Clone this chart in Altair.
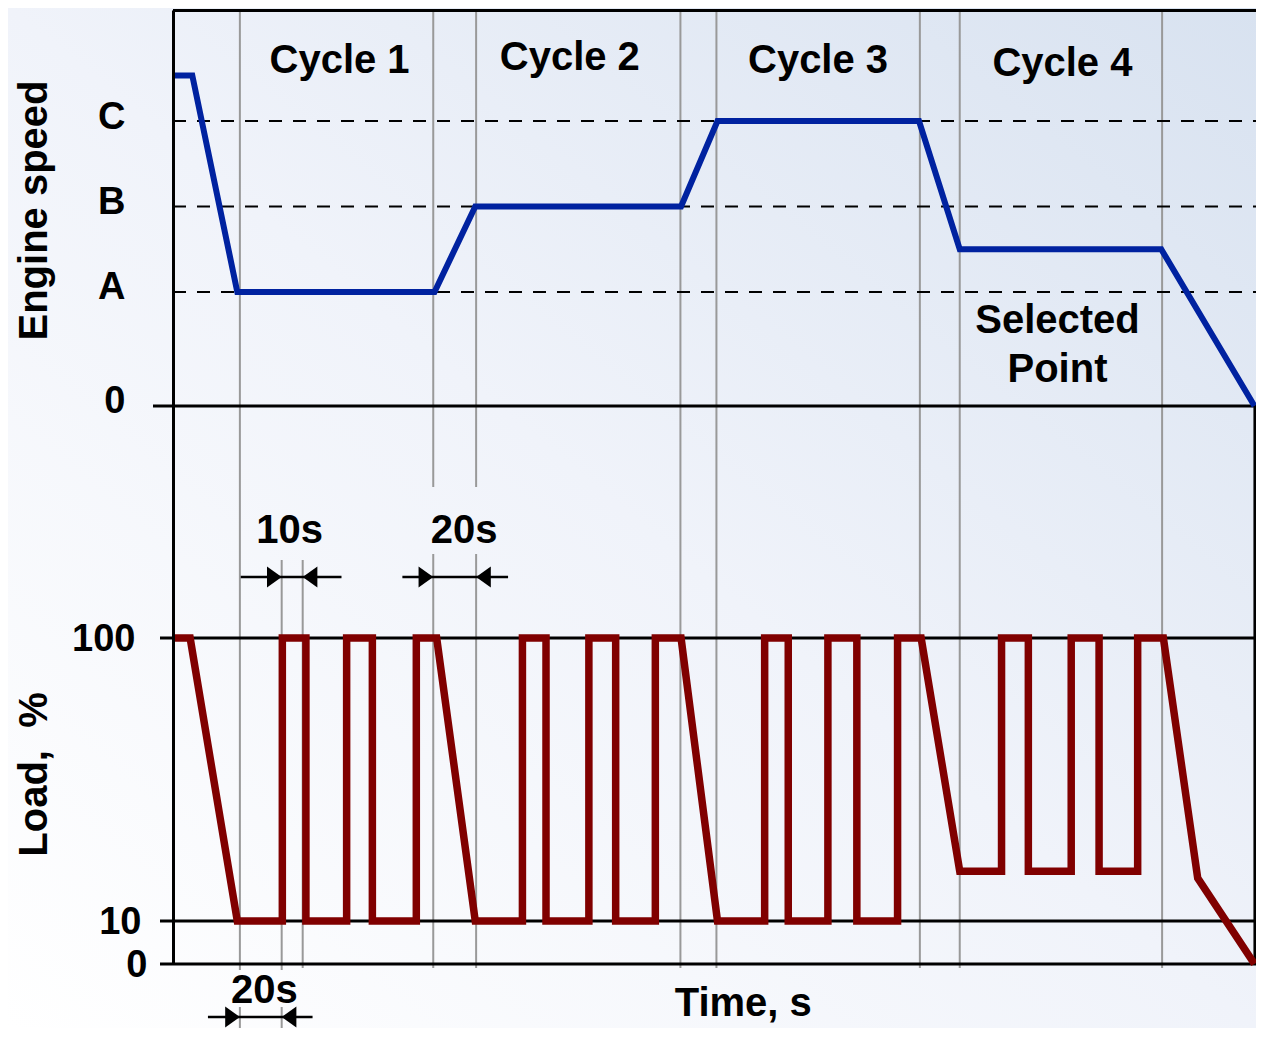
import altair as alt
import pandas as pd

# ---------------- data ----------------
# Engine speed trace: time (s) and relative speed level (A = 40, B = 70, C = 100)
speed_time = [0, 9, 30, 122, 141, 237, 254, 348, 367, 461, 504.5]
speed_level = [116, 116, 40, 40, 70, 70, 100, 100, 55, 55, 0]
speed_ticks = [0, 40, 70, 100]
speed_tick_labels = ["0", "A", "B", "C"]

# Load trace: time (s) and load (%)
load_time = [0, 8, 30, 51, 51, 62, 62, 81, 81, 93, 93, 113.5, 113.5, 123,
             141, 163, 163, 174, 174, 194, 194, 206.5, 206.5, 225, 225, 237,
             254, 276, 276, 287, 287, 305.5, 305.5, 319, 319, 338, 338, 349,
             367, 386.5, 386.5, 399, 399, 419, 419, 432, 432, 450, 450, 462,
             478, 504.5]
load_pct = [100, 100, 10, 10, 100, 100, 10, 10, 100, 100, 10, 10, 100, 100,
            10, 10, 100, 100, 10, 10, 100, 100, 10, 10, 100, 100,
            10, 10, 100, 100, 10, 10, 100, 100, 10, 10, 100, 100,
            24, 24, 100, 100, 24, 24, 100, 100, 24, 24, 100, 100,
            22, 0]
load_ticks = [0, 10, 100]

# Phase boundaries (s) drawn as grey guide lines
boundary_time = [31.2, 50.7, 60.5, 121.4, 141.4, 236.7, 253.5, 348.4, 367, 461.4]
end_time = 504.7

# Labels
cycle_labels = ["Cycle 1", "Cycle 2", "Cycle 3", "Cycle 4"]
cycle_centers = [77.7, 185.1, 300.9, 414.9]
duration_labels = ["10s", "20s", "20s"]
duration_centers = [54.4, 135.8, 42.6]

# ---------------- layout / style ----------------
W, H = 1083, 954
PAD_B = 64
FONT = "Liberation Sans"
FS = 40
x_scale = alt.Scale(domain=[0, 505.2], nice=False, zero=False)
speed_scale = alt.Scale(domain=[-195.8, 138.95], nice=False, zero=False)
load_scale = alt.Scale(type="pow", exponent=0.88, domain=[0, 338.9], nice=False)


def X(field="t"):
    return alt.X(f"{field}:Q", scale=x_scale, axis=None)


def PY(field):
    return alt.Y(f"{field}:Q", scale=None, axis=None)


one = pd.DataFrame({"k": [0]})

# background gradient
bg = alt.Chart(one).mark_rect(
    color=alt.LinearGradient(
        gradient="linear",
        stops=[alt.GradientStop(color="#ffffff", offset=0),
               alt.GradientStop(color="#f0f3fa", offset=0.5),
               alt.GradientStop(color="#d8e2f0", offset=1)],
        x1=0, y1=1, x2=1, y2=0)
).encode(x=alt.value(-165), x2=alt.value(W), y=alt.value(-2), y2=alt.value(H + PAD_B))

# grey guide lines (segments broken around annotations)
b = boundary_time
seg_t = [b[0], b[0], b[1], b[1], b[2], b[3], b[3], b[4], b[4], b[5], b[6], b[7], b[8], b[9]]
seg_top = [0, 997, 550, 997, 550, 0, 544, 0, 544, 0, 0, 0, 0, 0]
seg_bot = [960, 1018, 960, 1018, 958, 477, 958, 477, 958, 958, 958, 958, 958, 958]
grey = alt.Chart(pd.DataFrame({"t": seg_t, "y1": seg_top, "y2": seg_bot})).mark_rule(
    color="#999999", strokeWidth=2
).encode(x=X(), y=PY("y1"), y2="y2:Q")

top_border = alt.Chart(one).mark_rule(color="black", strokeWidth=3).encode(
    x=alt.value(0), x2=alt.value(W), y=alt.value(0.5))
right_border = alt.Chart(pd.DataFrame({"t": [end_time]})).mark_rule(
    color="black", strokeWidth=3).encode(x=X(), y=alt.value(396), y2=alt.value(H))

# ---------- speed panel ----------
label_expr = " : ".join(
    f"datum.value == {v} ? '{l}'" for v, l in zip(speed_ticks[:-1], speed_tick_labels[:-1])
) + f" : '{speed_tick_labels[-1]}'"
speed_axis = alt.Axis(
    orient="left", values=speed_ticks, labelExpr=label_expr,
    title="Engine speed", titleX=-127, titleY=200, titleAngle=-90,
    titleAlign="center", titleBaseline="alphabetic",
    titleFont=FONT, titleFontSize=FS, titleFontWeight="bold", titleColor="black",
    labelFont=FONT, labelFontSize=38, labelFontWeight="bold", labelColor="black",
    labelPadding=48, labelOffset=-4, labelFlush=False, labelOverlap=False,
    ticks=False, grid=False, domain=True, domainColor="black", domainWidth=3,
    zindex=1)
SY = alt.Y("speed:Q", scale=speed_scale, axis=speed_axis)

speed_df = pd.DataFrame({"t": speed_time, "speed": speed_level,
                         "i": list(range(len(speed_time)))})
dashed = alt.Chart(pd.DataFrame({"speed": speed_ticks[1:]})).mark_rule(
    color="black", strokeWidth=2, strokeDash=[13, 11]
).encode(y=SY, x=alt.value(0), x2=alt.value(W))
speed_zero = alt.Chart(pd.DataFrame({"speed": [0]})).mark_rule(
    color="black", strokeWidth=3
).encode(y=SY, x=alt.value(-20), x2=alt.value(W))
blue = alt.Chart(speed_df).mark_line(
    color="#0022a0", strokeWidth=6, strokeJoin="miter", strokeCap="butt"
).encode(x=X(), y=SY, order="i:Q")
speed_group = alt.layer(dashed, speed_zero, blue)

# ---------- load panel ----------
load_axis = alt.Axis(
    orient="left", values=load_ticks,
    title="Load,\u00a0\u00a0%", titleX=-127, titleY=764, titleAngle=-90,
    titleAlign="center", titleBaseline="alphabetic",
    titleFont=FONT, titleFontSize=FS, titleFontWeight="bold", titleColor="black",
    labelFont=FONT, labelFontSize=38, labelFontWeight="bold", labelColor="black",
    labelPadding={"condition": [{"test": "datum.value == 100", "value": 38},
                                {"test": "datum.value == 10", "value": 32}],
                  "value": 26},
    labelOffset=1, labelFlush=False, labelOverlap=False,
    ticks=False, grid=False, domain=False, zindex=1)
LY = alt.Y("load:Q", scale=load_scale, axis=load_axis)

load_df = pd.DataFrame({"t": load_time, "load": load_pct,
                        "i": list(range(len(load_time)))})
load_rules = alt.Chart(pd.DataFrame({"load": load_ticks})).mark_rule(
    color="black", strokeWidth=3
).encode(y=LY, x=alt.value(-13), x2=alt.value(W))
red = alt.Chart(load_df).mark_line(
    color="#800000", strokeWidth=7.5, strokeJoin="miter", strokeCap="butt"
).encode(x=X(), y=LY, order="i:Q")
load_group = alt.layer(load_rules, red)

# ---------- duration arrows ----------
arrow_df = pd.DataFrame({"t1": [31.6, 107, 16.3], "t2": [78.6, 156.3, 65.1],
                         "y": [567, 567, 1007]})
arrow_lines = alt.Chart(arrow_df).mark_rule(color="black", strokeWidth=2.5).encode(
    x=X("t1"), x2="t2:Q", y=PY("y"))
head_r = alt.Chart(pd.DataFrame({"t": [b[1], b[3], b[0]], "y": [567, 567, 1007]})).mark_point(
    shape="M0,0L-1.4,-1L-1.4,1Z", filled=True, size=441, color="black", opacity=1, strokeWidth=0
).encode(x=X(), y=PY("y"))
head_l = alt.Chart(pd.DataFrame({"t": [b[2], b[4], b[1]], "y": [567, 567, 1007]})).mark_point(
    shape="M0,0L1.4,-1L1.4,1Z", filled=True, size=441, color="black", opacity=1, strokeWidth=0
).encode(x=X(), y=PY("y"))

# ---------- text annotations ----------
text_df = pd.DataFrame({
    "label": cycle_labels + ["Selected", "Point"] + duration_labels + ["Time, s"],
    "t": cycle_centers + [412.6, 412.6] + duration_centers + [266],
    "y": [63, 60, 63, 66, 323, 372, 533, 533, 993, 1006],
})
texts = alt.Chart(text_df).mark_text(
    font=FONT, fontSize=FS, fontWeight="bold", color="black",
    align="center", baseline="alphabetic"
).encode(x=X(), y=PY("y"), text="label:N")

chart = alt.layer(
    bg, grey, top_border, right_border, speed_group, load_group,
    arrow_lines, head_r, head_l, texts
).resolve_scale(y="independent").properties(
    width=W, height=H,
    autosize=alt.AutoSizeParams(type="none"),
    padding={"left": 165, "top": 2, "right": 0, "bottom": PAD_B},
    background="white",
).configure_view(stroke=None)

chart.save("out.html", embed_options={"renderer": "svg", "actions": False})
